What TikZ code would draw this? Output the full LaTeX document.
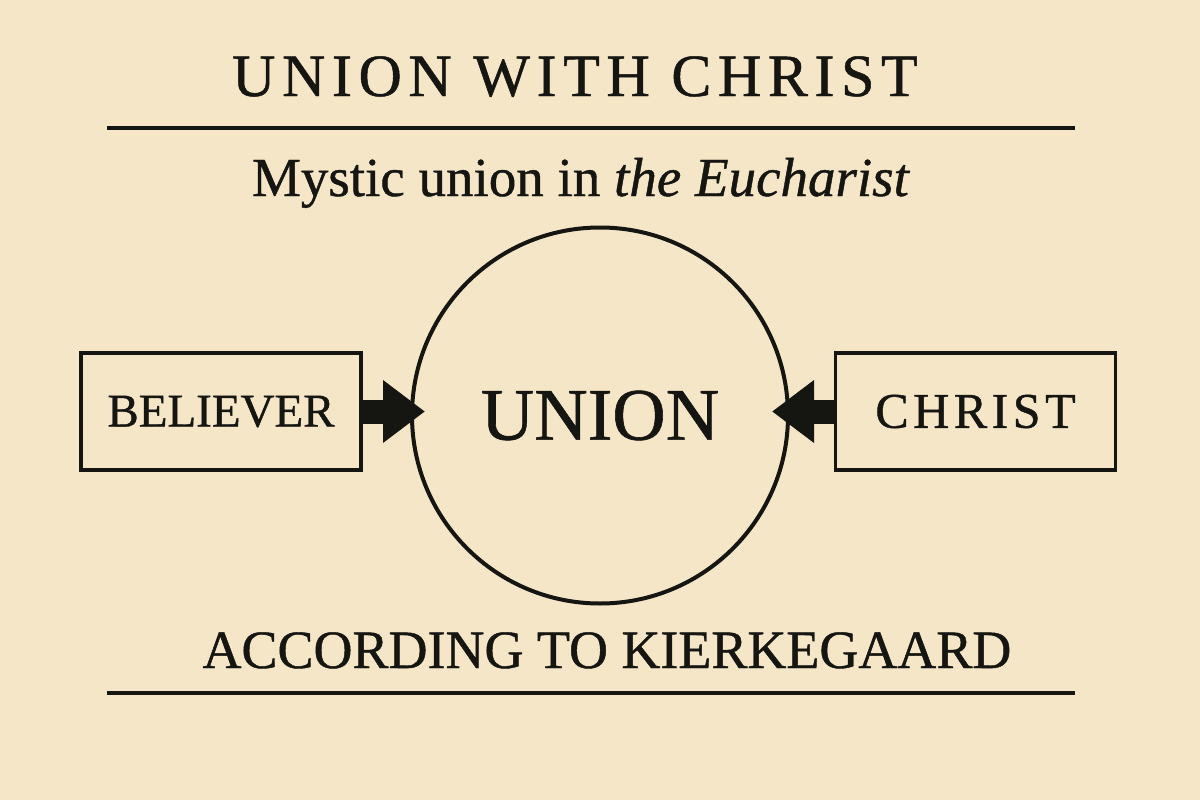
\documentclass[tikz,border=0pt]{standalone}
\usepackage{fontspec}
\setmainfont{Liberation Serif}[FakeBold=0.8]
\usetikzlibrary{arrows.meta,calc}
\definecolor{paper}{HTML}{F5E6C8}
\definecolor{ink}{HTML}{151511}
\begin{document}
\begin{tikzpicture}[x=1pt,y=-1pt,
  every node/.style={inner sep=0pt,outer sep=0pt,text=ink},
  rule/.style={draw=ink,line width=3.5pt},
  box/.style={draw=ink,line width=3.5pt,minimum width=280pt,minimum height=117pt},
  ring/.style={draw=ink,circle,line width=4pt,minimum size=376pt},
  bigarrow/.style={draw=ink,line width=24pt,-{Triangle[length=42pt,width=60pt]}}]
\fill[paper] (0,0) rectangle (1200,800);
\useasboundingbox (0,0) rectangle (1200,800);
\node[anchor=base] (title) at (575,96) {\fontsize{60}{62}\selectfont\addfontfeature{LetterSpace=11}UNION WITH CHRIST};
\coordinate (r1a) at (107,128);
\coordinate (r1b) at (1075,128);
\draw[rule] (r1a) -- (r1b);
\node[anchor=base] (sub) at (581,196) {\fontsize{55}{60}\selectfont Mystic union in \textit{the Eucharist}};
\node[ring] (un) at (600,415.5) {\fontsize{74}{76}\selectfont UNION};
\node[box] (bel) at (221,411.5) {\fontsize{47}{50}\selectfont BELIEVER};
\node[box] (chr) at (975.5,411.5) {\fontsize{50}{52}\selectfont\addfontfeature{LetterSpace=9}CHRIST};
\coordinate (tl) at ($(un.west)+(13,0)$);
\coordinate (tr) at ($(un.east)+(-16,0)$);
\draw[bigarrow] (bel.east) -- (bel.east -| tl);
\draw[bigarrow] (chr.west) -- (chr.west -| tr);
\node[anchor=base] (kier) at (607,668) {\fontsize{54}{58}\selectfont ACCORDING TO KIERKEGAARD};
\coordinate (r2a) at (107,693);
\coordinate (r2b) at (1075,693);
\draw[rule] (r2a) -- (r2b);
\end{tikzpicture}
\end{document}
